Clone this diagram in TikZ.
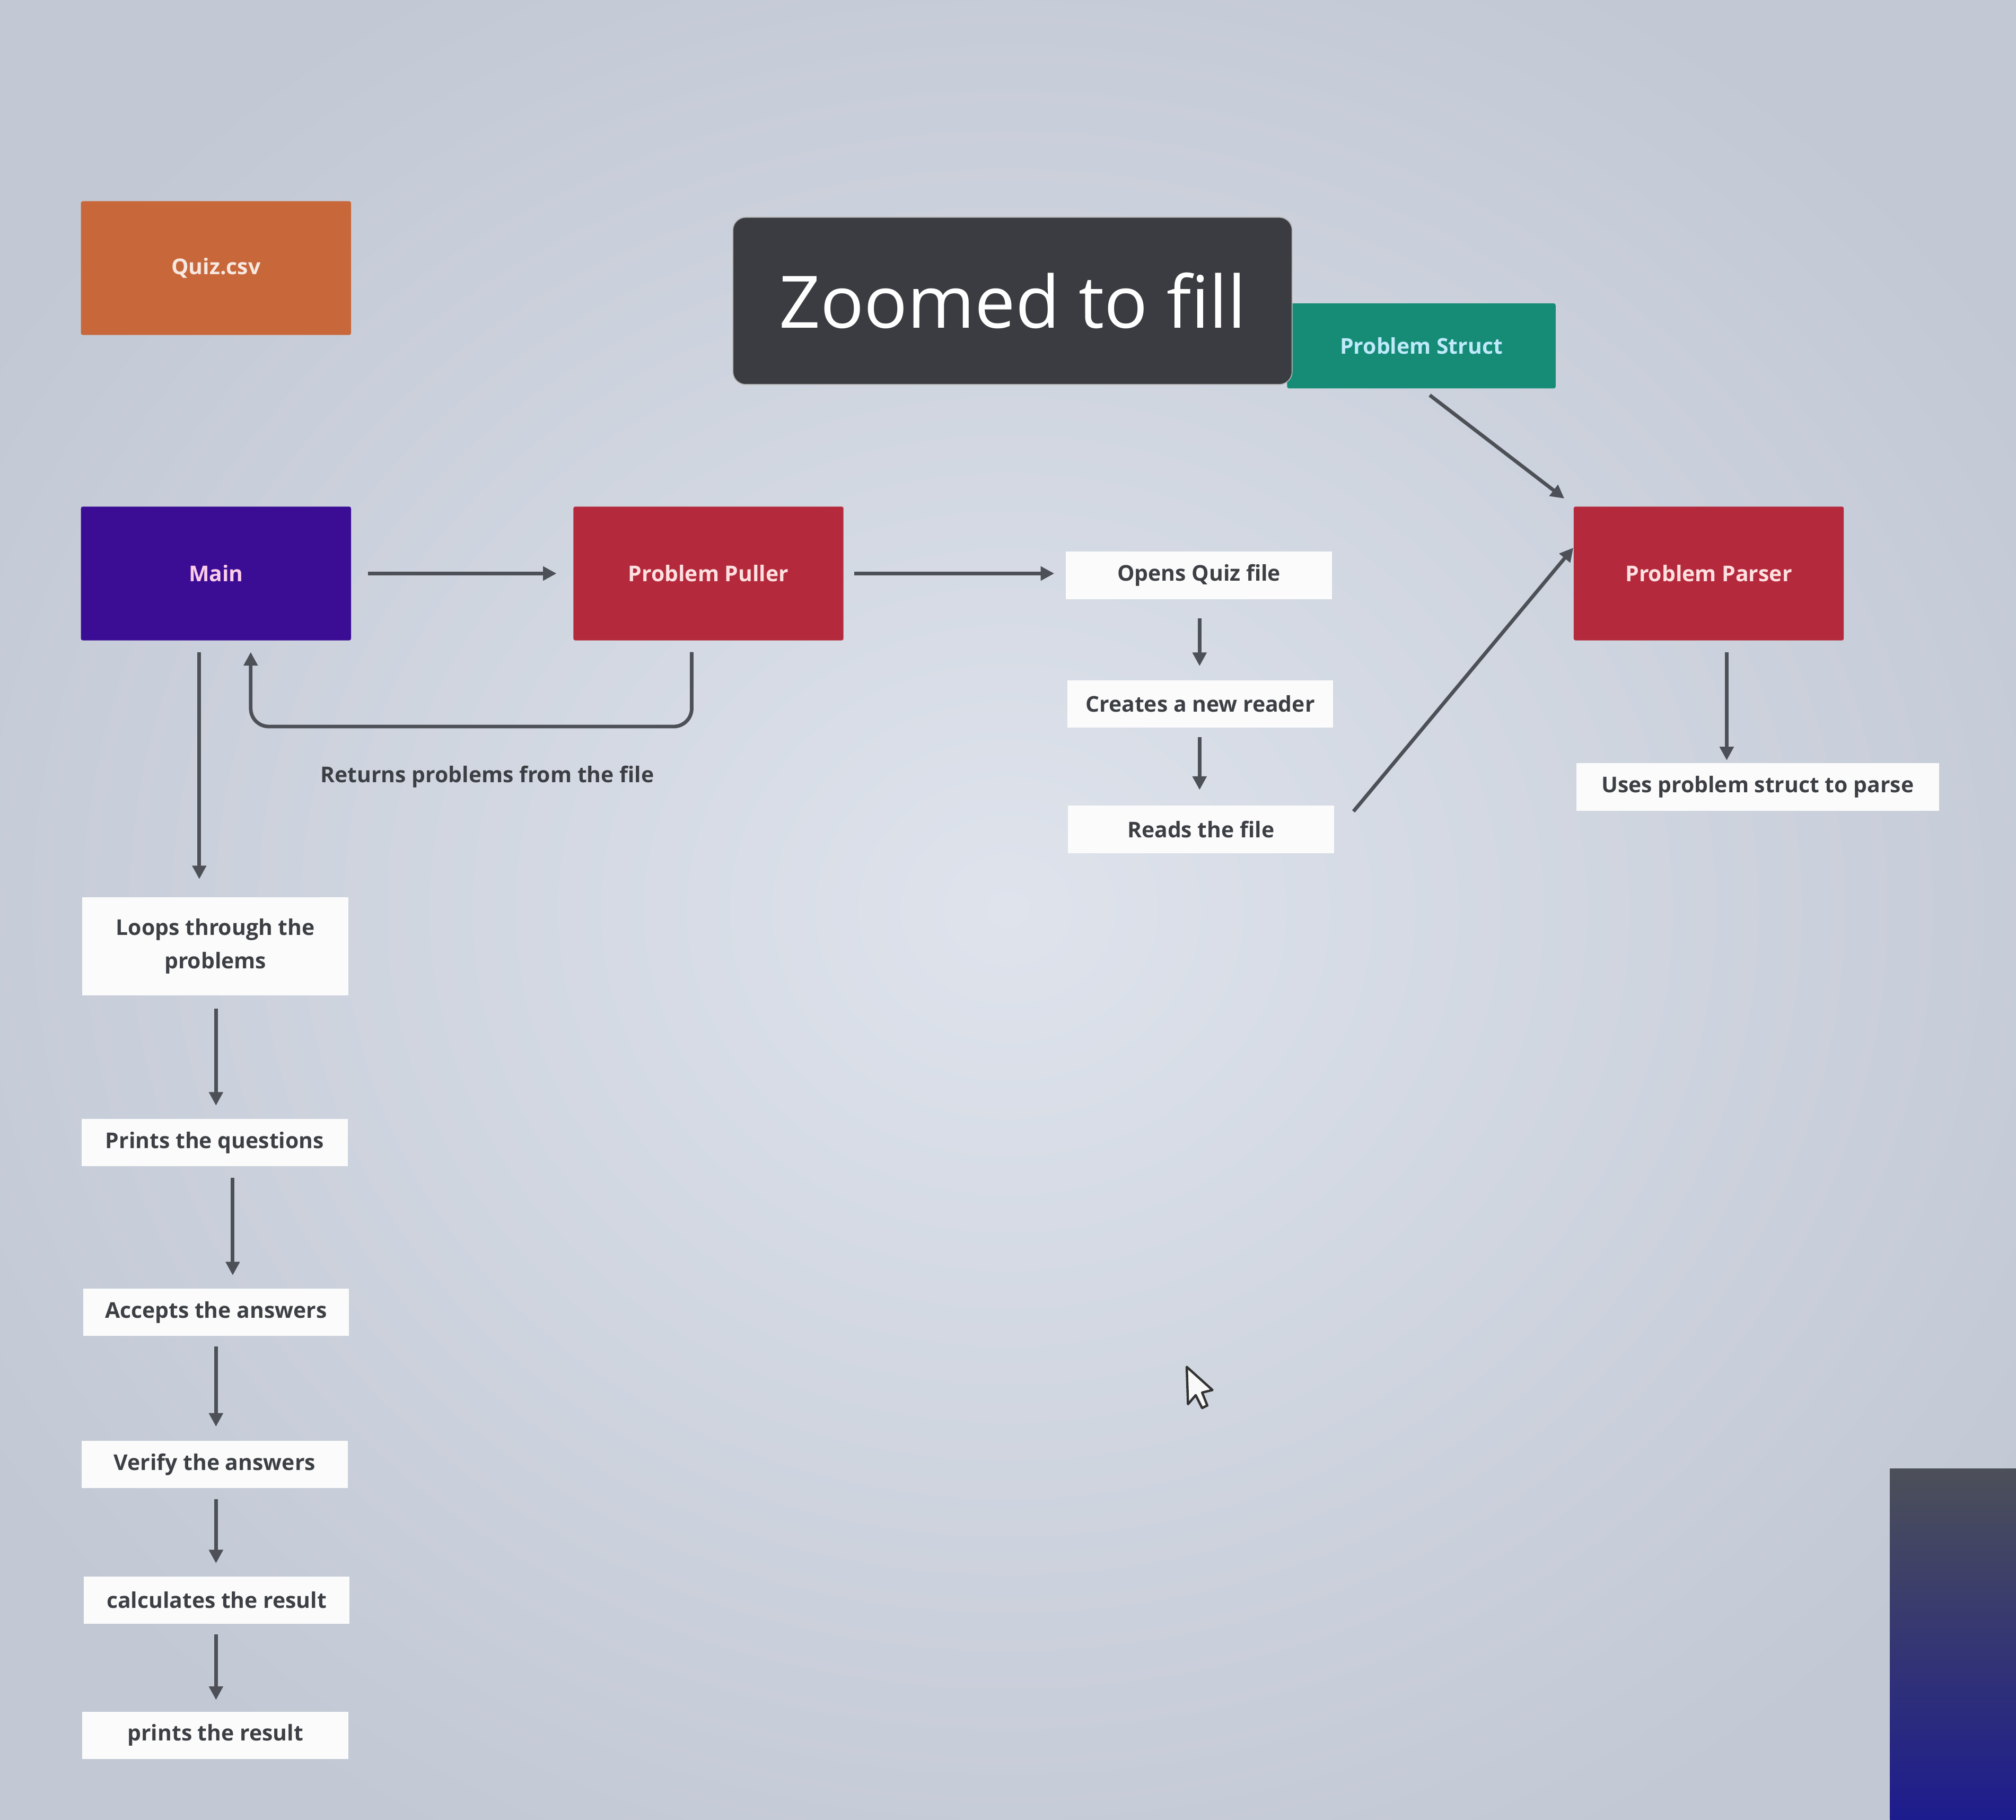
\documentclass[tikz,border=0pt]{standalone}
\usepackage{fontspec}
\setmainfont{Open Sans}
\usetikzlibrary{arrows.meta,calc}
\definecolor{bgouter}{HTML}{C2C8D4}
\definecolor{bginner}{HTML}{DEE3EC}
\definecolor{quizc}{HTML}{C8673A}
\definecolor{mainc}{HTML}{3B0D95}
\definecolor{redc}{HTML}{B42A3C}
\definecolor{tealc}{HTML}{168C77}
\definecolor{darkc}{HTML}{3B3C41}
\definecolor{labtext}{HTML}{3C3F44}
\definecolor{arrc}{HTML}{4D5157}
\definecolor{panelt}{HTML}{4C5058}
\definecolor{panelb}{HTML}{1D1C8E}
\tikzset{
  x=0.025cm, y=-0.025cm,
  cbox/.style={rectangle, rounded corners=1pt, inner sep=0pt, minimum width=5.25cm, minimum height=2.6cm, font=\fontsize{12}{14}\selectfont\bfseries},
  wbox/.style={rectangle, fill=white!97!gray, inner sep=0pt, minimum width=5.17cm, minimum height=0.92cm, text=labtext, font=\fontsize{12}{18.5}\selectfont\bfseries, align=center},
  arr/.style={draw=arrc, line width=2pt, -{Triangle[length=7.5pt,width=7.5pt]}},
}
\begin{document}
\begin{tikzpicture}
\useasboundingbox (0,0) rectangle (1568,1415);
\fill[bgouter] (0,0) rectangle (1568,1415);
\shade[inner color=bginner, outer color=bgouter] (-150,-120) rectangle (1718,1535);

% coloured boxes
\node[cbox, fill=quizc, text=quizc!15!white] (quiz) at (168,208.5) {Quiz.csv};
\node[cbox, fill=tealc, text=cyan!25!white, minimum width=5.22cm, minimum height=1.65cm] (struct) at (1105.5,269) {Problem Struct};
\node[rectangle, rounded corners=0.25cm, fill=darkc, draw=gray!60, line width=0.5pt, minimum width=10.87cm, minimum height=3.25cm, text=white, font=\fontsize{40}{46}\selectfont] (zoom) at (787.5,234) {Zoomed to fill};
\node[cbox, fill=mainc, text=magenta!20!white] (main) at (168,446) {Main};
\node[cbox, fill=redc, text=red!12!white] (puller) at (551,446) {Problem Puller};
\node[cbox, fill=redc, text=red!12!white] (parser) at (1329,446) {Problem Parser};

% white labels, middle
\node[wbox] (opens) at (932.5,447.5) {Opens Quiz file};
\node[wbox] (creates) at (933.5,547.5) {Creates a new reader};
\node[wbox] (reads) at (934,645) {Reads the file};
\node[wbox, minimum width=7.05cm] (uses) at (1367,612) {Uses problem struct to parse};
\node[text=labtext, font=\fontsize{12}{15}\selectfont\bfseries] (returns) at (379,604) {Returns problems from the file};

% white labels, left column
\node[wbox, minimum height=1.9cm] (loops) at (167.5,736) {Loops through the\\problems};
\node[wbox] (prints) at (167,888.5) {Prints the questions};
\node[wbox] (accepts) at (168,1020.5) {Accepts the answers};
\node[wbox] (verify) at (167,1139) {Verify the answers};
\node[wbox] (calc) at (168.5,1244.5) {calculates the result};
\node[wbox] (printres) at (167.5,1349.5) {prints the result};

% connectors
\draw[arr, shorten <=0.32cm, shorten >=0.32cm] (main.east) -- (puller.west);
\draw[arr, shorten <=0.2cm, shorten >=0.22cm] (puller.east) -- (opens.west |- puller.east);
\draw[arr, rounded corners=0.35cm, shorten <=0.22cm, shorten >=0.22cm] (puller.south -| 538,0) -- (538,565) -- (195,565) -- (main.south -| 195,0);
\draw[arr, shorten <=0.22cm, shorten >=0.35cm] (main.south -| 155,0) -- (loops.north -| 155,0);
\draw[arr, shorten <=0.25cm, shorten >=0.25cm] (loops.south -| 168,0) -- (prints.north -| 168,0);
\draw[arr, shorten <=0.22cm, shorten >=0.25cm] (prints.south -| 181,0) -- (accepts.north -| 181,0);
\draw[arr, shorten <=0.2cm, shorten >=0.27cm] (accepts.south -| 168,0) -- (verify.north -| 168,0);
\draw[arr, shorten <=0.2cm, shorten >=0.25cm] (verify.south -| 168,0) -- (calc.north -| 168,0);
\draw[arr, shorten <=0.2cm, shorten >=0.22cm] (calc.south -| 168,0) -- (printres.north -| 168,0);
\draw[arr, shorten <=0.37cm, shorten >=0.27cm] (opens.south -| 933,0) -- (creates.north -| 933,0);
\draw[arr, shorten <=0.18cm, shorten >=0.3cm] (creates.south -| 933,0) -- (reads.north -| 933,0);
\draw[arr] ($(reads.east)+(15,-14)$) -- ($(parser.west)+(0,-20)$);
\draw[arr] ($(struct.south)+(6.5,5)$) -- ($(parser.north west)+(-7,-6)$);
\draw[arr, shorten <=0.22cm, shorten >=0.05cm] (parser.south -| 1343,0) -- (uses.north -| 1343,0);

% mouse cursor
\draw[fill=white!95!gray, draw=black!80, line width=1.3pt, line join=round]
  (923,1063) -- (924,1092) -- (930,1085) -- (935,1095) -- (939,1093) -- (935,1083) -- (943,1081) -- cycle;

% partial panel at bottom right
\shade[top color=panelt, bottom color=panelb] (1470,1142) rectangle (1568,1415);
\end{tikzpicture}
\end{document}
